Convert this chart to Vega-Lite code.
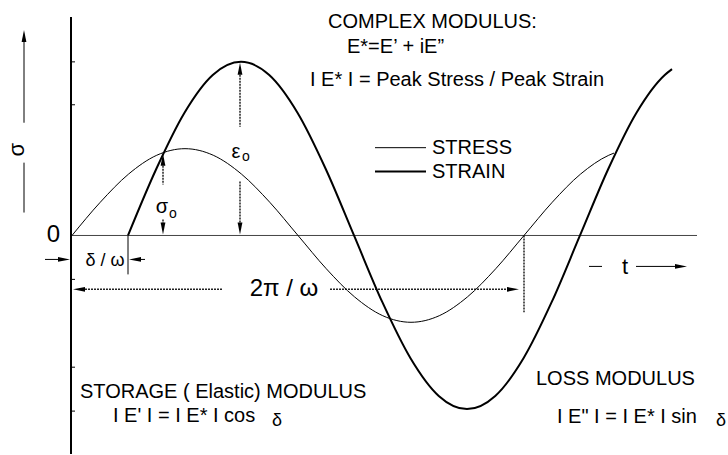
{
  "$schema": "https://vega.github.io/schema/vega-lite/v6.json",
  "width": 728,
  "height": 455,
  "autosize": {"type": "fit", "contains": "padding"},
  "padding": 0,
  "background": "white",
  "config": {"view": {"stroke": null}},
  "datasets": {
    "curves": [
      {"series": "stress", "t": 0, "s": 0},
      {"series": "stress", "t": 28.25, "s": 33.3},
      {"series": "stress", "t": 56.5, "s": 61.5},
      {"series": "stress", "t": 84.75, "s": 80.4},
      {"series": "stress", "t": 113, "s": 87},
      {"series": "stress", "t": 141.25, "s": 80.4},
      {"series": "stress", "t": 169.5, "s": 61.5},
      {"series": "stress", "t": 197.75, "s": 33.3},
      {"series": "stress", "t": 226, "s": 0},
      {"series": "stress", "t": 254.25, "s": -33.3},
      {"series": "stress", "t": 282.5, "s": -61.5},
      {"series": "stress", "t": 310.75, "s": -80.4},
      {"series": "stress", "t": 339, "s": -87},
      {"series": "stress", "t": 367.25, "s": -80.4},
      {"series": "stress", "t": 395.5, "s": -61.5},
      {"series": "stress", "t": 423.75, "s": -33.3},
      {"series": "stress", "t": 452, "s": 0},
      {"series": "stress", "t": 480.25, "s": 33.3},
      {"series": "stress", "t": 508.5, "s": 61.5},
      {"series": "stress", "t": 536.75, "s": 80.4},
      {"series": "stress", "t": 542, "s": 82.6},
      {"series": "strain", "t": 56, "s": 0},
      {"series": "strain", "t": 84.25, "s": 66.6},
      {"series": "strain", "t": 112.5, "s": 123.0},
      {"series": "strain", "t": 140.75, "s": 160.8},
      {"series": "strain", "t": 169, "s": 174},
      {"series": "strain", "t": 197.25, "s": 160.8},
      {"series": "strain", "t": 225.5, "s": 123.0},
      {"series": "strain", "t": 253.75, "s": 66.6},
      {"series": "strain", "t": 282, "s": 0},
      {"series": "strain", "t": 310.25, "s": -66.6},
      {"series": "strain", "t": 338.5, "s": -123.0},
      {"series": "strain", "t": 366.75, "s": -160.8},
      {"series": "strain", "t": 395, "s": -174},
      {"series": "strain", "t": 423.25, "s": -160.8},
      {"series": "strain", "t": 451.5, "s": -123.0},
      {"series": "strain", "t": 479.75, "s": -66.6},
      {"series": "strain", "t": 508, "s": 0},
      {"series": "strain", "t": 536.25, "s": 66.6},
      {"series": "strain", "t": 564.5, "s": 123.0},
      {"series": "strain", "t": 592.75, "s": 160.8},
      {"series": "strain", "t": 600, "s": 166.7}
    ],
    "segments": [
      {"kind": "axis", "t": -1, "s": 219, "t2": -1, "s2": -219},
      {"kind": "zero", "t": 0, "s": 0, "t2": 625, "s2": 0},
      {"kind": "thin", "t": -48, "s": 200, "t2": -48, "s2": 113},
      {"kind": "thin", "t": -48, "s": 73, "t2": -48, "s2": 23},
      {"kind": "thin", "t": -27, "s": -24, "t2": -8, "s2": -24},
      {"kind": "thin", "t": 73, "s": -24, "t2": 63, "s2": -24},
      {"kind": "thin", "t": 56, "s": 0, "t2": 56, "s2": -39},
      {"kind": "thin", "t": 517, "s": -31, "t2": 530, "s2": -31},
      {"kind": "thin", "t": 564, "s": -31, "t2": 609, "s2": -31},
      {"kind": "thin", "t": 303, "s": 88, "t2": 354, "s2": 88},
      {"kind": "thin", "t": 0, "s": 174, "t2": 3, "s2": 174},
      {"kind": "thin", "t": 0, "s": 131, "t2": 3, "s2": 131},
      {"kind": "thin", "t": 0, "s": -44, "t2": 3, "s2": -44},
      {"kind": "thin", "t": 0, "s": -132, "t2": 3, "s2": -132},
      {"kind": "thin", "t": 0, "s": -176, "t2": 3, "s2": -176},
      {"kind": "thick", "t": 303, "s": 64, "t2": 354, "s2": 64},
      {"kind": "dash", "t": 7, "s": -54, "t2": 151, "s2": -54},
      {"kind": "dash", "t": 258, "s": -54, "t2": 441, "s2": -54},
      {"kind": "dash", "t": 452, "s": 0, "t2": 452, "s2": -77},
      {"kind": "dash", "t": 91, "s": 76, "t2": 91, "s2": 51},
      {"kind": "dash", "t": 91, "s": 16, "t2": 91, "s2": 7},
      {"kind": "dash", "t": 168, "s": 167, "t2": 168, "s2": 109},
      {"kind": "dash", "t": 168, "s": 54, "t2": 168, "s2": 7}
    ],
    "arrows": [
      {"t": -48, "s": 200, "angle": 0},
      {"t": -8, "s": -24, "angle": 90},
      {"t": 63, "s": -24, "angle": 270},
      {"t": 7, "s": -54, "angle": 270},
      {"t": 441, "s": -54, "angle": 90},
      {"t": 91, "s": 76, "angle": 0},
      {"t": 91, "s": 7, "angle": 180},
      {"t": 168, "s": 167, "angle": 0},
      {"t": 168, "s": 7, "angle": 180},
      {"t": 609, "s": -31, "angle": 90}
    ],
    "leftTexts": [
      {"t": 256, "s": 214, "text": "COMPLEX MODULUS:", "size": 20},
      {"t": 275, "s": 189, "text": "E*=E’ + iE”", "size": 20},
      {"t": 238, "s": 156, "text": "I E* I = Peak Stress / Peak Strain", "size": 20},
      {"t": 360, "s": 88, "text": "STRESS", "size": 20},
      {"t": 360, "s": 64, "text": "STRAIN", "size": 20},
      {"t": 8, "s": -157, "text": "STORAGE ( Elastic) MODULUS", "size": 20},
      {"t": 41, "s": -181, "text": "I E' I = I E* I cos", "size": 20},
      {"t": 464, "s": -144, "text": "LOSS MODULUS", "size": 20},
      {"t": 485, "s": -182, "text": "I E\" I = I E* I sin", "size": 20}
    ],
    "centerTexts": [
      {"t": -18.5, "s": 0, "text": "0", "size": 24, "angle": 0},
      {"t": -55, "s": 86, "text": "σ", "size": 22, "angle": 270},
      {"t": 33, "s": -26, "text": "δ / ω", "size": 18, "angle": 0},
      {"t": 212, "s": -54, "text": "2π / ω", "size": 24, "angle": 0},
      {"t": 90, "s": 29, "text": "σ", "size": 20, "angle": 0},
      {"t": 101, "s": 22, "text": "o", "size": 14, "angle": 0},
      {"t": 164, "s": 84, "text": "ε", "size": 20, "angle": 0},
      {"t": 174, "s": 79, "text": "o", "size": 14, "angle": 0},
      {"t": 205, "s": -186, "text": "δ", "size": 18, "angle": 0},
      {"t": 649, "s": -186, "text": "δ", "size": 18, "angle": 0},
      {"t": 553, "s": -32, "text": "t", "size": 22, "angle": 0}
    ]
  },
  "encoding": {
    "x": {"field": "t", "type": "quantitative", "scale": {"domain": [-72, 656], "nice": false, "zero": false}, "axis": null},
    "y": {"field": "s", "type": "quantitative", "scale": {"domain": [-219, 236], "nice": false, "zero": false}, "axis": null}
  },
  "layer": [
    {
      "data": {"name": "segments"},
      "transform": [{"filter": "datum.kind === 'zero'"}],
      "mark": {"type": "rule", "stroke": "#444", "strokeWidth": 1},
      "encoding": {"x2": {"field": "t2"}, "y2": {"field": "s2"}}
    },
    {
      "data": {"name": "segments"},
      "transform": [{"filter": "datum.kind === 'axis'"}],
      "mark": {"type": "rule", "stroke": "black", "strokeWidth": 2},
      "encoding": {"x2": {"field": "t2"}, "y2": {"field": "s2"}}
    },
    {
      "data": {"name": "segments"},
      "transform": [{"filter": "datum.kind === 'thin'"}],
      "mark": {"type": "rule", "stroke": "black", "strokeWidth": 1},
      "encoding": {"x2": {"field": "t2"}, "y2": {"field": "s2"}}
    },
    {
      "data": {"name": "segments"},
      "transform": [{"filter": "datum.kind === 'thick'"}],
      "mark": {"type": "rule", "stroke": "black", "strokeWidth": 2},
      "encoding": {"x2": {"field": "t2"}, "y2": {"field": "s2"}}
    },
    {
      "data": {"name": "segments"},
      "transform": [{"filter": "datum.kind === 'dash'"}],
      "mark": {"type": "rule", "stroke": "#222", "strokeWidth": 1.5, "strokeDash": [2, 1]},
      "encoding": {"x2": {"field": "t2"}, "y2": {"field": "s2"}}
    },
    {
      "data": {"name": "curves"},
      "transform": [{"filter": "datum.series === 'stress'"}],
      "mark": {"type": "line", "stroke": "black", "strokeWidth": 1, "interpolate": "monotone"},
      "encoding": {}
    },
    {
      "data": {"name": "curves"},
      "transform": [{"filter": "datum.series === 'strain'"}],
      "mark": {"type": "line", "stroke": "black", "strokeWidth": 2, "interpolate": "monotone"},
      "encoding": {}
    },
    {
      "data": {"name": "arrows"},
      "mark": {"type": "point", "shape": "M0,-1L0.4,1L-0.4,1Z", "filled": true, "fill": "black", "opacity": 1, "size": 144, "strokeWidth": 0},
      "encoding": {"angle": {"field": "angle", "type": "quantitative", "scale": null}}
    },
    {
      "data": {"name": "leftTexts"},
      "mark": {"type": "text", "align": "left", "baseline": "middle", "font": "Liberation Sans", "fill": "black"},
      "encoding": {
        "text": {"field": "text"},
        "size": {"field": "size", "type": "quantitative", "scale": null}
      }
    },
    {
      "data": {"name": "centerTexts"},
      "mark": {"type": "text", "align": "center", "baseline": "middle", "font": "Liberation Sans", "fill": "black"},
      "encoding": {
        "text": {"field": "text"},
        "size": {"field": "size", "type": "quantitative", "scale": null},
        "angle": {"field": "angle", "type": "quantitative", "scale": null}
      }
    }
  ]
}
